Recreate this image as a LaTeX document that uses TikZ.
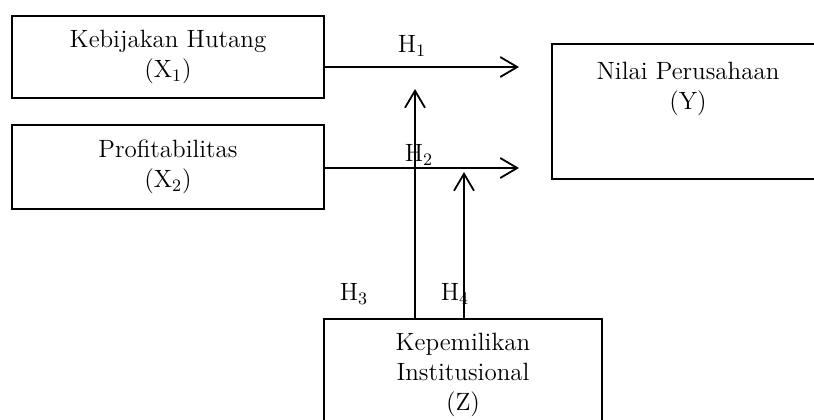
\documentclass[tikz,border=0pt]{standalone}
\usetikzlibrary{arrows.meta,positioning}

\tikzset{
	box/.style = {draw, line width = 0.6pt, align = center, inner sep = 0pt,
		font = \fontsize{12.5}{15}\selectfont},
	link/.style = {-{Straight Barb[length = 8.5pt, width = 10pt]}, line width = 0.9pt},
	hlabel/.style = {font = \fontsize{12.5}{14}\selectfont}
}

\begin{document}
\begin{tikzpicture} [x = 0.5pt, y = -0.5pt]
		\clip (0, 0) rectangle (814, 419);

		\node[box, minimum width = 156pt, minimum height = 41pt] (kebijakan) at (168, 57) {Kebijakan Hutang\\(X\textsubscript{1})};
		\node[box, minimum width = 156pt, minimum height = 42pt] (profit) at (168, 167) {Profitabilitas\\(X\textsubscript{2})};

		\node[box, minimum width = 136pt, minimum height = 67.5pt] (nilai) at (688, 111.5) {};
		\node[align = center, font = \fontsize{12.5}{15}\selectfont] (nilaiText) at (688, 89) {Nilai Perusahaan\\(Y)};

		\node[box, minimum width = 139pt, minimum height = 56pt] (institusi) at (463, 375) {Kepemilikan\\Institusional\\(Z)};

		\coordinate (endOne) at (519, 67);
		\coordinate (endTwo) at (519, 168);
		\coordinate (upOne) at (415, 89);
		\coordinate (upTwo) at (464, 172);

		\node[hlabel] (hOne) at (412, 46) {H\textsubscript{1}};
		\node[hlabel] (hTwo) at (419, 155) {H\textsubscript{2}};
		\node[hlabel] (hThree) at (354, 294) {H\textsubscript{3}};
		\node[hlabel] (hFour) at (455, 294) {H\textsubscript{4}};

		% edges
		\draw[link] (kebijakan.east |- endOne) -- (endOne);
		\draw[link] (profit.east |- endTwo) -- (endTwo);
		\draw[link] (institusi.north -| upOne) -- (upOne);
		\draw[link] (institusi.north -| upTwo) -- (upTwo);

\end{tikzpicture}
\end{document}
